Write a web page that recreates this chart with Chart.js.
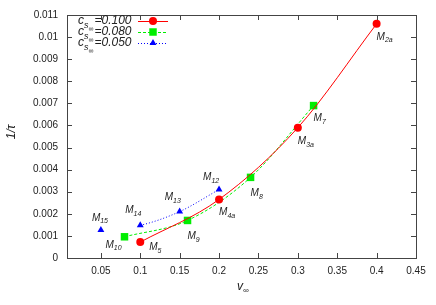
<!DOCTYPE html>
<html>
<head>
<script src="https://cdn.jsdelivr.net/npm/chart.js@4/dist/chart.umd.min.js"></script>
<style>
  body { margin: 0; background: #fff; }
  .chart { width: 436px; height: 305px; }
</style>
</head>
<body>
<div class="chart"><canvas id="myChart" width="436" height="305"></canvas></div>
<script>
// c_s = 0.100
var vRed = [0.1, 0.2, 0.3, 0.4];
var tRed = [0.00072, 0.00265, 0.0059, 0.0106];
var nRed = ['5', '4a', '3a', '2a'];
// c_s = 0.080
var vGreen = [0.08, 0.16, 0.24, 0.32];
var tGreen = [0.00096, 0.0017, 0.00365, 0.0069];
var nGreen = ['10', '9', '8', '7'];
// c_s = 0.050
var vBlue = [0.05, 0.1, 0.15, 0.2];
var tBlue = [0.00127, 0.00148, 0.0021, 0.0031];
var nBlue = ['15', '14', '13', '12'];

var seriesNames = ['0.100', '0.080', '0.050'];
var xTicks = [0.05, 0.1, 0.15, 0.2, 0.25, 0.3, 0.35, 0.4, 0.45];
var yTicks = [0, 0.001, 0.002, 0.003, 0.004, 0.005, 0.006, 0.007, 0.008, 0.009, 0.01, 0.011];

// label offsets (px) from each point
var offRed = [[9, 5], [0, 13], [0, 14], [0, 13]];
var offGreen = [[-19, 8], [0, 16], [0, 16], [0, 13]];
var offBlue = [[-9, -12], [-15, -15], [-15, -14], [-16, -12]];

function pts(xs, ys) {
  return xs.map(function (x, i) { return { x: x, y: ys[i] }; });
}

var FONT = '"Liberation Sans", Arial, sans-serif';

// draw "M" with subscript at x,y (left, middle)
function drawSub(ctx, x, y, main, sub, size) {
  ctx.font = 'italic ' + size + 'px ' + FONT;
  ctx.textAlign = 'left';
  ctx.textBaseline = 'middle';
  ctx.fillText(main, x, y);
  var w = ctx.measureText(main).width;
  ctx.font = 'italic ' + Math.round(size * 0.7) + 'px ' + FONT;
  ctx.fillText(sub, x + w, y + size * 0.35);
  return w + ctx.measureText(sub).width;
}

var extras = {
  id: 'extras',
  afterDatasetsDraw: function (chart) {
    var ctx = chart.ctx;
    var xs = chart.scales.x, ys = chart.scales.y;
    var a = chart.chartArea;
    ctx.save();
    // frame + inward ticks
    ctx.strokeStyle = '#444';
    ctx.lineWidth = 1;
    ctx.strokeRect(Math.round(a.left) + 0.5, Math.round(a.top) + 0.5, Math.round(a.right - a.left), Math.round(a.bottom - a.top));
    ctx.beginPath();
    xTicks.forEach(function (t) {
      var px = Math.round(xs.getPixelForValue(t)) + 0.5;
      ctx.moveTo(px, a.bottom); ctx.lineTo(px, a.bottom - 5);
      ctx.moveTo(px, a.top); ctx.lineTo(px, a.top + 5);
    });
    yTicks.forEach(function (t) {
      var py = Math.round(ys.getPixelForValue(t)) + 0.5;
      ctx.moveTo(a.left, py); ctx.lineTo(a.left + 5, py);
      ctx.moveTo(a.right, py); ctx.lineTo(a.right - 5, py);
    });
    ctx.stroke();

    // point labels
    ctx.fillStyle = '#222';
    var groups = [[vRed, tRed, nRed, offRed], [vGreen, tGreen, nGreen, offGreen], [vBlue, tBlue, nBlue, offBlue]];
    groups.forEach(function (g) {
      g[0].forEach(function (v, i) {
        var px = xs.getPixelForValue(v) + g[3][i][0];
        var py = ys.getPixelForValue(g[1][i]) + g[3][i][1];
        drawSub(ctx, px, py, 'M', g[2][i], 10);
      });
    });

    // legend
    var colors = ['#ff0000', '#00ee00', '#0000ff'];
    var dashes = [[], [3, 2], [1, 2]];
    var styles = ['circle', 'rect', 'triangle'];
    for (var i = 0; i < 3; i++) {
      var ly = 21 + i * 11;
      ctx.fillStyle = '#222';
      var x0 = 78;
      ctx.font = 'italic 12px ' + FONT;
      ctx.textBaseline = 'middle';
      ctx.textAlign = 'left';
      ctx.fillText('c', x0, ly);
      var w = ctx.measureText('c').width;
      ctx.font = 'italic 9px ' + FONT;
      ctx.fillText('s', x0 + w, ly + 4);
      var w2 = ctx.measureText('s').width;
      ctx.font = 'italic 7px ' + FONT;
      ctx.fillText('\u221e', x0 + w + w2, ly + 8);
      var w3 = ctx.measureText('\u221e').width;
      ctx.font = 'italic 12px ' + FONT;
      ctx.fillText('=' + seriesNames[i], x0 + w + w2 + w3 + 1, ly);
      ctx.strokeStyle = colors[i];
      ctx.setLineDash(dashes[i]);
      ctx.beginPath();
      ctx.moveTo(138, ly + 0.5); ctx.lineTo(168, ly + 0.5);
      ctx.stroke();
      ctx.setLineDash([]);
      ctx.fillStyle = colors[i];
      Chart.helpers.drawPoint(ctx, { pointStyle: styles[i], radius: i === 1 ? 5.3 : 4, borderWidth: 0 }, 153, ly);
    }

    // axis titles
    ctx.fillStyle = '#222';
    ctx.textAlign = 'left';
    ctx.textBaseline = 'middle';
    ctx.font = 'italic 12px ' + FONT;
    ctx.fillText('v', 237, 287);
    ctx.font = 'italic 8px ' + FONT;
    ctx.fillText('\u221e', 243, 291);
    ctx.save();
    ctx.translate(12, 132);
    ctx.rotate(-Math.PI / 2);
    ctx.textAlign = 'center';
    ctx.font = 'italic 12px ' + FONT;
    ctx.fillText('1/\u03c4', 0, 0);
    ctx.restore();
    ctx.restore();
  }
};

var ctx = document.getElementById('myChart').getContext('2d');
var myChart = new Chart(ctx, {
  type: 'scatter',
  data: {
    datasets: [{
      data: pts(vRed, tRed),
      showLine: true,
      borderColor: '#ff0000',
      backgroundColor: '#ff0000',
      borderWidth: 1,
      pointStyle: 'circle',
      pointRadius: 4,
      pointBorderWidth: 0,
      cubicInterpolationMode: 'monotone'
    }, {
      data: pts(vGreen, tGreen),
      showLine: true,
      borderColor: '#00ee00',
      backgroundColor: '#00ee00',
      borderWidth: 1,
      borderDash: [3, 2],
      pointStyle: 'rect',
      pointRadius: 5.3,
      pointBorderWidth: 0,
      cubicInterpolationMode: 'monotone'
    }, {
      data: pts(vBlue, tBlue),
      showLine: true,
      borderColor: '#0000ff',
      backgroundColor: '#0000ff',
      borderWidth: 1,
      borderDash: [1, 2],
      pointStyle: 'triangle',
      pointRadius: 4,
      pointBorderWidth: 0,
      cubicInterpolationMode: 'monotone',
      segment: {
        borderColor: function (c) { return c.p0DataIndex === 0 ? 'rgba(0,0,0,0)' : undefined; }
      }
    }]
  },
  options: {
    responsive: false,
    animation: false,
    layout: { padding: { top: 13, right: 20, left: 0, bottom: 0 } },
    plugins: { legend: { display: false }, tooltip: { enabled: false } },
    scales: {
      x: {
        type: 'linear',
        min: 0.007,
        max: 0.45,
        afterBuildTicks: function (s) { s.ticks = xTicks.map(function (v) { return { value: v }; }); },
        afterFit: function (s) { s.height = 47; },
        grid: { display: false, drawTicks: false },
        border: { display: false },
        ticks: {
          padding: 7,
          color: '#222',
          font: { family: FONT, size: 10 },
          callback: function (v) { return String(+v.toFixed(3)); }
        }
      },
      y: {
        type: 'linear',
        min: 0,
        max: 0.011,
        afterBuildTicks: function (s) { s.ticks = yTicks.map(function (v) { return { value: v }; }); },
        afterFit: function (s) { s.width = 67; },
        grid: { display: false, drawTicks: false },
        border: { display: false },
        ticks: {
          padding: 9,
          color: '#222',
          font: { family: FONT, size: 10 },
          callback: function (v) { return String(+v.toFixed(3)); }
        }
      }
    }
  },
  plugins: [extras]
});
</script>
</body>
</html>
